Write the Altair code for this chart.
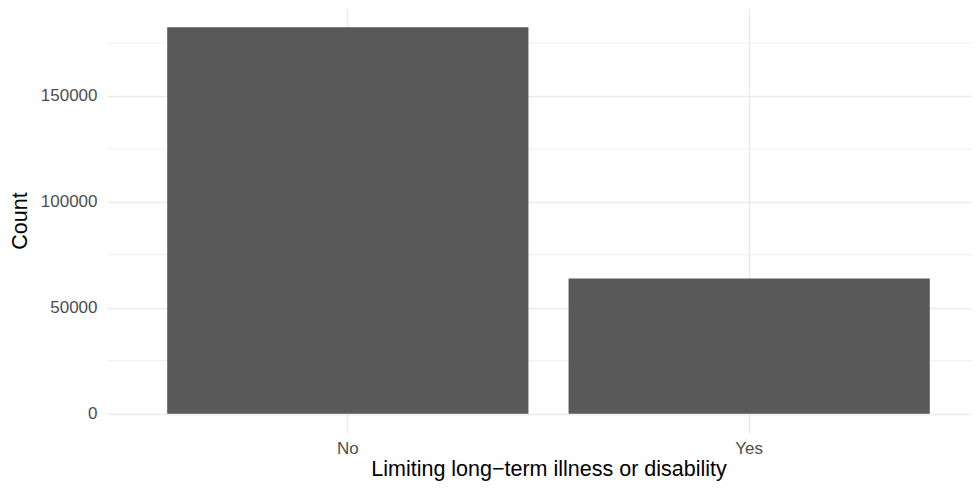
import altair as alt
import pandas as pd

categories = ["No", "Yes"]
counts = [182400, 63800]
major_ticks = [0, 50000, 100000, 150000]
minor_ticks = [25000, 75000, 125000, 175000]

bars_df = pd.DataFrame({"category": categories, "count": counts})
minor_df = pd.DataFrame({"v": minor_ticks})

FONT = "Liberation Sans"
y_scale = alt.Scale(domain=[-9120, 191520], nice=False, zero=False)
y_axis = alt.Axis(
    values=major_ticks,
    title="Count",
    grid=True,
    labelPadding=10,
    titlePadding=9,
    format="d",
)

minor = alt.Chart(minor_df).mark_rule(color="#EBEBEB", strokeWidth=0.8).encode(
    y=alt.Y("v:Q", scale=y_scale, axis=y_axis, title="Count")
)

bars = alt.Chart(bars_df).mark_bar(color="#595959").encode(
    x=alt.X(
        "category:N",
        sort=categories,
        scale=alt.Scale(range=[0, 883], paddingInner=0.1, paddingOuter=0.15),
        axis=alt.Axis(
            title="Limiting long\u2212term illness or disability",
            labelAngle=0,
            bandPosition=0.5,
            grid=True,
            labelPadding=7,
            titlePadding=2,
        ),
    ),
    y=alt.Y("count:Q", scale=y_scale, axis=y_axis, title="Count"),
    y2=alt.datum(0),
)

chart = (
    alt.layer(minor, bars)
    .properties(
        width=865,
        height=425,
        autosize="none",
        padding={"left": 99, "top": 0, "right": 0, "bottom": 48},
    )
    .configure_view(stroke=None)
    .configure_axis(
        domain=False,
        ticks=False,
        tickSize=0,
        gridColor="#EBEBEB",
        gridWidth=1.5,
        labelFont=FONT,
        labelFontSize=17,
        labelColor="#4D4D4D",
        titleFont=FONT,
        titleFontSize=21.5,
        titleColor="#000000",
        titleFontWeight="normal",
    )
)

chart.save("out.html", embed_options={"renderer": "svg", "actions": False})
